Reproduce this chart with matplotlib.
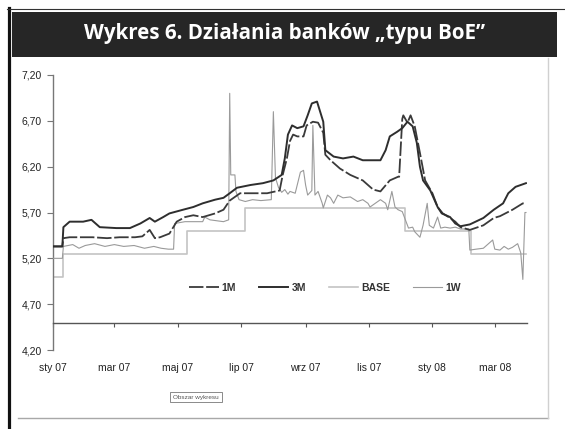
import matplotlib
matplotlib.use("Agg")
import matplotlib.pyplot as plt
import pandas as pd
from matplotlib.lines import Line2D
from matplotlib.patches import Rectangle

# ---------------- data ----------------
dates_3m = ["2007-01-01", "2007-01-10", "2007-01-11", "2007-01-17", "2007-01-24", "2007-01-30",
            "2007-02-07", "2007-02-15", "2007-03-03", "2007-03-16", "2007-03-26", "2007-04-04",
            "2007-04-09", "2007-04-17", "2007-04-23", "2007-05-06", "2007-05-16", "2007-05-25",
            "2007-06-06", "2007-06-14", "2007-06-20", "2007-06-27", "2007-07-10", "2007-07-22",
            "2007-08-01", "2007-08-09", "2007-08-12", "2007-08-15", "2007-08-19", "2007-08-24",
            "2007-08-30", "2007-09-03", "2007-09-07", "2007-09-12", "2007-09-15", "2007-09-18",
            "2007-09-20", "2007-09-28", "2007-10-07", "2007-10-17", "2007-10-26", "2007-11-07",
            "2007-11-12", "2007-11-17", "2007-11-21", "2007-11-28", "2007-12-03", "2007-12-08",
            "2007-12-13", "2007-12-17", "2007-12-20", "2007-12-23", "2007-12-30", "2008-01-06",
            "2008-01-10", "2008-01-18", "2008-01-23", "2008-01-28", "2008-02-06", "2008-02-19",
            "2008-02-29", "2008-03-09", "2008-03-14", "2008-03-21", "2008-03-31"]
values_3m = [5.33, 5.33, 5.54, 5.60, 5.60, 5.60,
             5.62, 5.54, 5.53, 5.53, 5.58, 5.64,
             5.60, 5.65, 5.69, 5.73, 5.76, 5.80,
             5.84, 5.86, 5.91, 5.97, 6.00, 6.02,
             6.05, 6.11, 6.29, 6.55, 6.65, 6.62,
             6.64, 6.76, 6.89, 6.91, 6.80, 6.69,
             6.38, 6.31, 6.29, 6.31, 6.27, 6.27,
             6.27, 6.38, 6.53, 6.58, 6.62, 6.69,
             6.64, 6.46, 6.20, 6.05, 5.94, 5.76,
             5.69, 5.65, 5.58, 5.55, 5.57, 5.64,
             5.73, 5.80, 5.91, 5.98, 6.02]

dates_1m = ["2007-01-01", "2007-01-10", "2007-01-11", "2007-01-17", "2007-02-08", "2007-02-22",
            "2007-03-06", "2007-03-21", "2007-03-28", "2007-04-04", "2007-04-09", "2007-04-14",
            "2007-04-23", "2007-04-30", "2007-05-08", "2007-05-16", "2007-05-25", "2007-06-06",
            "2007-06-14", "2007-06-20", "2007-06-30", "2007-07-12", "2007-07-26", "2007-08-07",
            "2007-08-10", "2007-08-14", "2007-08-17", "2007-08-20", "2007-08-24", "2007-08-30",
            "2007-09-02", "2007-09-08", "2007-09-13", "2007-09-18", "2007-09-20", "2007-09-25",
            "2007-10-04", "2007-10-14", "2007-10-26", "2007-11-05", "2007-11-12", "2007-11-21",
            "2007-11-29", "2007-11-30", "2007-12-03", "2007-12-04", "2007-12-08", "2007-12-11",
            "2007-12-15", "2007-12-20", "2007-12-25", "2008-01-01", "2008-01-06", "2008-01-11",
            "2008-01-18", "2008-01-23", "2008-01-28", "2008-02-06", "2008-02-19", "2008-02-29",
            "2008-03-06", "2008-03-18", "2008-03-28", "2008-03-31"]
values_1m = [5.33, 5.33, 5.42, 5.43, 5.43, 5.42,
             5.43, 5.43, 5.44, 5.51, 5.42, 5.43,
             5.47, 5.60, 5.65, 5.67, 5.65, 5.69,
             5.73, 5.83, 5.91, 5.91, 5.91, 5.94,
             6.11, 6.29, 6.48, 6.55, 6.53, 6.53,
             6.65, 6.69, 6.68, 6.57, 6.33, 6.27,
             6.18, 6.11, 6.05, 5.95, 5.93, 6.05,
             6.09, 6.09, 6.72, 6.76, 6.68, 6.76,
             6.64, 6.35, 6.05, 5.91, 5.76, 5.69,
             5.64, 5.60, 5.54, 5.51, 5.56, 5.64,
             5.66, 5.73, 5.80, 5.79]

dates_base = ["2007-01-01", "2007-01-11", "2007-05-10", "2007-07-05", "2007-12-06", "2008-02-07",
              "2008-03-31"]
values_base = [5.00, 5.25, 5.50, 5.75, 5.50, 5.25, 5.25]

dates_1w = ["2007-01-01", "2007-01-10", "2007-01-11", "2007-01-20", "2007-01-26", "2007-02-01",
            "2007-02-10", "2007-02-20", "2007-03-01", "2007-03-10", "2007-03-20", "2007-03-30",
            "2007-04-08", "2007-04-15", "2007-04-22", "2007-04-27", "2007-04-28", "2007-05-08",
            "2007-05-25", "2007-05-27", "2007-06-01", "2007-06-14", "2007-06-19", "2007-06-20",
            "2007-06-21", "2007-06-25", "2007-06-26", "2007-06-29", "2007-07-05", "2007-07-12",
            "2007-07-20", "2007-07-30", "2007-08-01", "2007-08-03", "2007-08-06", "2007-08-09",
            "2007-08-12", "2007-08-15", "2007-08-17", "2007-08-22", "2007-08-27", "2007-08-30",
            "2007-09-01", "2007-09-03", "2007-09-07", "2007-09-08", "2007-09-10", "2007-09-13",
            "2007-09-17", "2007-09-18", "2007-09-22", "2007-09-25", "2007-09-28", "2007-10-02",
            "2007-10-07", "2007-10-14", "2007-10-21", "2007-10-26", "2007-10-31", "2007-11-02",
            "2007-11-07", "2007-11-12", "2007-11-17", "2007-11-19", "2007-11-23", "2007-11-26",
            "2007-11-29", "2007-12-03", "2007-12-06", "2007-12-09", "2007-12-13", "2007-12-15",
            "2007-12-20", "2007-12-23", "2007-12-27", "2007-12-29", "2008-01-02", "2008-01-06",
            "2008-01-09", "2008-01-13", "2008-01-18", "2008-01-23", "2008-01-28", "2008-02-05",
            "2008-02-06", "2008-02-12", "2008-02-19", "2008-02-28", "2008-03-01", "2008-03-06",
            "2008-03-10", "2008-03-14", "2008-03-18", "2008-03-23", "2008-03-26", "2008-03-28",
            "2008-03-30", "2008-03-31"]
values_1w = [5.20, 5.20, 5.33, 5.35, 5.31, 5.34,
             5.36, 5.33, 5.35, 5.33, 5.34, 5.31,
             5.33, 5.31, 5.30, 5.30, 5.58, 5.60,
             5.60, 5.65, 5.62, 5.60, 5.62, 7.00,
             6.11, 6.11, 5.93, 5.84, 5.82, 5.84,
             5.83, 5.84, 6.80, 6.08, 5.97, 5.92,
             5.95, 5.90, 5.93, 5.91, 6.14, 6.16,
             6.00, 5.89, 5.94, 6.65, 5.89, 5.93,
             5.80, 5.75, 5.89, 5.86, 5.80, 5.89,
             5.86, 5.87, 5.82, 5.84, 5.80, 5.76,
             5.80, 5.84, 5.80, 5.73, 5.93, 5.76,
             5.73, 5.71, 5.62, 5.53, 5.54, 5.49,
             5.43, 5.56, 5.80, 5.56, 5.53, 5.65,
             5.53, 5.54, 5.53, 5.54, 5.52, 5.52,
             5.29, 5.30, 5.31, 5.40, 5.30, 5.29,
             5.33, 5.30, 5.32, 5.36, 5.26, 4.97,
             5.70, 5.70]

tick_dates = ["2007-01-01", "2007-03-01", "2007-05-01", "2007-07-01", "2007-09-01",
              "2007-11-01", "2008-01-01", "2008-03-01"]
tick_labels = ["sty 07", "mar 07", "maj 07", "lip 07", "wrz 07", "lis 07", "sty 08", "mar 08"]
y_ticks = [4.20, 4.70, 5.20, 5.70, 6.20, 6.70, 7.20]

title = "Wykres 6. Działania banków \u201etypu BoE\u201d"

# ---------------- figure ----------------
W, H = 565, 429
fig = plt.figure(figsize=(W / 100, H / 100), dpi=100)
fig.patch.set_facecolor("white")

def fx(px):
    return px / W

def fy(py):
    return 1 - py / H

# frame decorations
fig.add_artist(Line2D([fx(8.5), fx(8.5)], [fy(8), fy(429)], color="#111111", lw=2.3))
fig.add_artist(Line2D([fx(7), fx(565)], [fy(8.5), fy(8.5)], color="#333333", lw=0.8))
fig.add_artist(Rectangle((fx(12), fy(57)), fx(557) - fx(12), fy(12) - fy(57),
                         facecolor="#262626", edgecolor="none"))
fig.text(fx(285), fy(34), title, color="white", fontsize=14.8, fontweight="bold",
         family=["Open Sans", "DejaVu Sans"], ha="center", va="center")
fig.add_artist(Line2D([fx(18), fx(548)], [fy(418), fy(418)], color="#a8a8a8", lw=1.0))
fig.add_artist(Line2D([fx(548), fx(548)], [fy(58), fy(418)], color="#d0d0d0", lw=1.0))

ax = fig.add_axes([fx(53), fy(350), fx(527) - fx(53), fy(75) - fy(350)])
ax.set_facecolor("none")

d3m = pd.to_datetime(dates_3m)
d1m = pd.to_datetime(dates_1m)
dbase = pd.to_datetime(dates_base)
d1w = pd.to_datetime(dates_1w)

ax.plot(dbase, values_base, color="#c4c4c4", lw=1.2, drawstyle="steps-post", label="BASE", zorder=2)
ax.plot(d1w, values_1w, color="#9a9a9a", lw=0.8, label="1W", zorder=3)
ax.plot(d1m, values_1m, color="#3a3a3a", lw=1.3, linestyle=(0, (8, 1.5)), label="1M", zorder=4)
ax.plot(d3m, values_3m, color="#2e2e2e", lw=1.4, label="3M", zorder=5)

ax.set_xlim(pd.Timestamp("2007-01-01"), pd.Timestamp("2008-04-01"))
ax.set_ylim(4.2, 7.2)

ax.set_yticks(y_ticks)
ax.set_yticklabels([f"{v:.2f}".replace(".", ",") for v in y_ticks])
ax.set_xticks(pd.to_datetime(tick_dates))
ax.set_xticklabels(tick_labels)

for s in ["top", "right"]:
    ax.spines[s].set_visible(False)
ax.spines["left"].set_color("#777777")
ax.spines["left"].set_linewidth(1.0)
ax.spines["bottom"].set_position(("data", 4.5))
ax.spines["bottom"].set_color("#555555")
ax.spines["bottom"].set_linewidth(1.0)

ax.tick_params(axis="y", direction="out", length=4, width=0.8, color="#777777",
               labelsize=7.5, labelcolor="#222222", pad=4)
ax.tick_params(axis="x", direction="out", length=3, width=0.8, color="#555555",
               labelsize=7.5, labelcolor="#222222", pad=26.5)
for t in ax.get_xticklabels() + ax.get_yticklabels():
    t.set_family("Liberation Sans")

handles, labels = ax.get_legend_handles_labels()
order = [labels.index(n) for n in ["1M", "3M", "BASE", "1W"]]
leg = ax.legend([handles[i] for i in order], [labels[i] for i in order],
                loc="center", bbox_to_anchor=(0.574, 0.2255), ncol=4, frameon=False,
                handlelength=2.8, columnspacing=2.2, handletextpad=0.3,
                prop={"family": "Liberation Sans", "size": 7.5, "weight": "bold"})
for t in leg.get_texts():
    t.set_color("#333333")

fig.text(fx(196), fy(397), "Obszar wykresu", fontsize=4.6, color="#555555",
         family="Liberation Sans", ha="center", va="center",
         bbox=dict(boxstyle="square,pad=0.45", facecolor="white", edgecolor="#777777", lw=0.6))

fig.savefig("out.png", dpi=100)
